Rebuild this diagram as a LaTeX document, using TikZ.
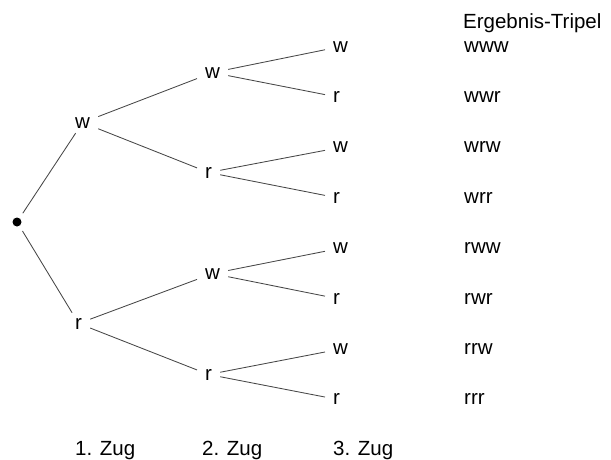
\documentclass[tikz,border=0pt]{standalone}
\usepackage{fontspec}
\setmainfont{Liberation Sans}
\begin{document}
\begin{tikzpicture}[x=1pt,y=-1pt,
  every node/.style={font=\fontsize{20.5}{24}\selectfont, text=black},
  lbl/.style={anchor=base west, inner xsep=8pt, inner ysep=5pt},
  txt/.style={anchor=base west, inner sep=0pt},
  edge/.style={draw=black!72, line width=0.85pt},
]
\useasboundingbox (0,0) rectangle (611,459);

% root
\node[circle, fill=black, minimum size=9pt, inner sep=0pt, outer sep=6pt] (o) at (17,222) {};

% first draw
\node[lbl] (w) at (67,128) {w};
\node[lbl] (r) at (67,329) {r};

% second draw
\node[lbl] (ww) at (197,78)  {w};
\node[lbl] (wr) at (197,178) {r};
\node[lbl] (rw) at (197,279) {w};
\node[lbl] (rr) at (197,380) {r};

% third draw
\node[lbl] (www) at (325,52)    {w};
\node[lbl] (wwr) at (325,102.4) {r};
\node[lbl] (wrw) at (325,152.8) {w};
\node[lbl] (wrr) at (325,203.2) {r};
\node[lbl] (rww) at (325,253.6) {w};
\node[lbl] (rwr) at (325,304)   {r};
\node[lbl] (rrw) at (325,354.4) {w};
\node[lbl] (rrr) at (325,404.8) {r};

% branches
\draw[edge] (o) -- (w);
\draw[edge] (o) -- (r);
\draw[edge] (w) -- (ww);
\draw[edge] (w) -- (wr);
\draw[edge] (r) -- (rw);
\draw[edge] (r) -- (rr);
\draw[edge] (ww) -- (www);
\draw[edge] (ww) -- (wwr);
\draw[edge] (wr) -- (wrw);
\draw[edge] (wr) -- (wrr);
\draw[edge] (rw) -- (rww);
\draw[edge] (rw) -- (rwr);
\draw[edge] (rr) -- (rrw);
\draw[edge] (rr) -- (rrr);

% outcome column
\node[txt] (head) at (463,28) {Ergebnis-Tripel};
\node[txt] (t1) at (464,52)    {www};
\node[txt] (t2) at (464,102.4) {wwr};
\node[txt] (t3) at (464,152.8) {wrw};
\node[txt] (t4) at (464,203.2) {wrr};
\node[txt] (t5) at (464,253.6) {rww};
\node[txt] (t6) at (464,304)   {rwr};
\node[txt] (t7) at (464,354.4) {rrw};
\node[txt] (t8) at (464,404.8) {rrr};

% column captions
\node[txt] (z1) at (75,455)  {1. Zug};
\node[txt] (z2) at (202,455) {2. Zug};
\node[txt] (z3) at (333,455) {3. Zug};
\end{tikzpicture}
\end{document}
